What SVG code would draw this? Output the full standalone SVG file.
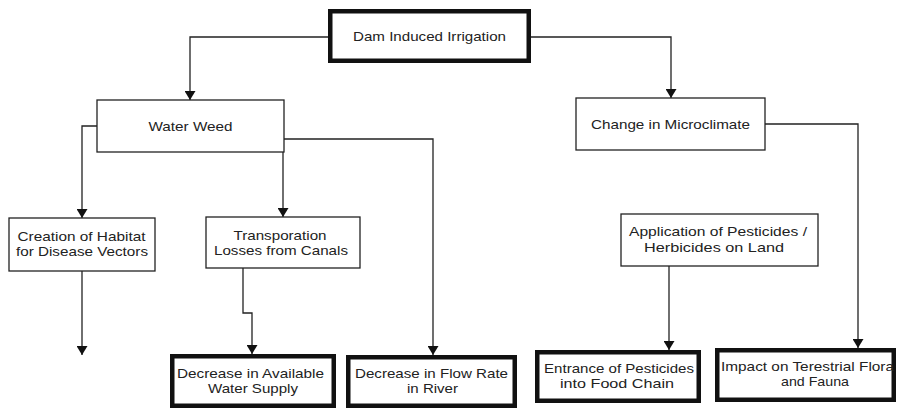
<svg xmlns="http://www.w3.org/2000/svg" width="897" height="410" viewBox="0 0 897 410">
<style>
  .bg { fill: #ffffff; }
  .thin { fill: #ffffff; stroke: #222222; stroke-width: 1.3; }
  .thick { fill: #ffffff; stroke: #111111; stroke-width: 4.5; }
  .lbl { font-family: "Liberation Sans", Arial, sans-serif; font-size: 13.5px; fill: #222222; text-anchor: middle; }
  .conn { fill: none; stroke: #222222; stroke-width: 1.3; marker-end: url(#arr); }
</style>
<defs>
  <marker id="arr" viewBox="0 0 9 11" refX="9" refY="5.5" markerWidth="9" markerHeight="11" markerUnits="userSpaceOnUse" orient="auto" preserveAspectRatio="none">
    <path d="M0,0 L9,5.5 L0,11 z" fill="#111111"/>
  </marker>
</defs>
<rect class="bg" x="0" y="0" width="897" height="410"/>

<g id="connectors">
  <polyline class="conn" points="328,37 190,37 190,100"/>
  <polyline class="conn" points="531,37 671,37 671,98"/>
  <polyline class="conn" points="97,126 82,126 82,218"/>
  <polyline class="conn" points="283,152 283,217"/>
  <polyline class="conn" points="284,139 433,139 433,355"/>
  <polyline class="conn" points="765,124 858,124 858,348"/>
  <polyline class="conn" points="82,271 82,355"/>
  <polyline class="conn" points="243,268 243,313 252,313 252,354"/>
  <polyline class="conn" points="669,266 669,350"/>
</g>

<g id="dam">
  <rect class="thick" x="330.25" y="11.25" width="198.5" height="49.5"/>
  <text class="lbl" x="429.5" y="41" font-size="14" textLength="153" lengthAdjust="spacingAndGlyphs">Dam Induced Irrigation</text>
</g>

<g id="waterweed">
  <rect class="thin" x="97" y="100" width="187" height="52"/>
  <text class="lbl" x="190.5" y="131" font-size="14" textLength="84" lengthAdjust="spacingAndGlyphs">Water Weed</text>
</g>

<g id="microclimate">
  <rect class="thin" x="576" y="98" width="189" height="52"/>
  <text class="lbl" x="670.5" y="129" font-size="14" textLength="159" lengthAdjust="spacingAndGlyphs">Change in Microclimate</text>
</g>

<g id="habitat">
  <rect class="thin" x="9" y="218" width="146" height="53"/>
  <text class="lbl" x="81.5" y="240.5" textLength="128" lengthAdjust="spacingAndGlyphs">Creation of Habitat</text>
  <text class="lbl" x="82" y="255.5" textLength="132" lengthAdjust="spacingAndGlyphs">for Disease Vectors</text>
</g>

<g id="transport">
  <rect class="thin" x="206" y="217" width="154" height="51"/>
  <text class="lbl" x="280" y="239.5" textLength="93" lengthAdjust="spacingAndGlyphs">Transporation</text>
  <text class="lbl" x="281" y="254.5" textLength="134" lengthAdjust="spacingAndGlyphs">Losses from Canals</text>
</g>

<g id="pesticides">
  <rect class="thin" x="621" y="214" width="197" height="52"/>
  <text class="lbl" x="718" y="236" textLength="178" lengthAdjust="spacingAndGlyphs">Application of Pesticides /</text>
  <text class="lbl" x="714" y="252" textLength="140" lengthAdjust="spacingAndGlyphs">Herbicides on Land</text>
</g>

<g id="watersupply">
  <rect class="thick" x="172.25" y="356.25" width="161.5" height="49.5"/>
  <text class="lbl" x="250.5" y="377.5" textLength="147" lengthAdjust="spacingAndGlyphs">Decrease in Available</text>
  <text class="lbl" x="253" y="392.5" textLength="90" lengthAdjust="spacingAndGlyphs">Water Supply</text>
</g>

<g id="flowrate">
  <rect class="thick" x="348.25" y="357.25" width="166.5" height="48.5"/>
  <text class="lbl" x="431.5" y="377.5" textLength="153" lengthAdjust="spacingAndGlyphs">Decrease in Flow Rate</text>
  <text class="lbl" x="432.5" y="392.5" textLength="51" lengthAdjust="spacingAndGlyphs">in River</text>
</g>

<g id="foodchain">
  <rect class="thick" x="537.25" y="352.25" width="161.5" height="48.5"/>
  <text class="lbl" x="619" y="372.5" textLength="150" lengthAdjust="spacingAndGlyphs">Entrance of Pesticides</text>
  <text class="lbl" x="617" y="388" textLength="114" lengthAdjust="spacingAndGlyphs">into Food Chain</text>
</g>

<g id="flora">
  <rect class="thick" x="717.25" y="350.25" width="176.5" height="49.5"/>
  <text class="lbl" x="807.5" y="370.5" textLength="173" lengthAdjust="spacingAndGlyphs">Impact on Terestrial Flora</text>
  <text class="lbl" x="815" y="386" textLength="68" lengthAdjust="spacingAndGlyphs">and Fauna</text>
</g>
</svg>
